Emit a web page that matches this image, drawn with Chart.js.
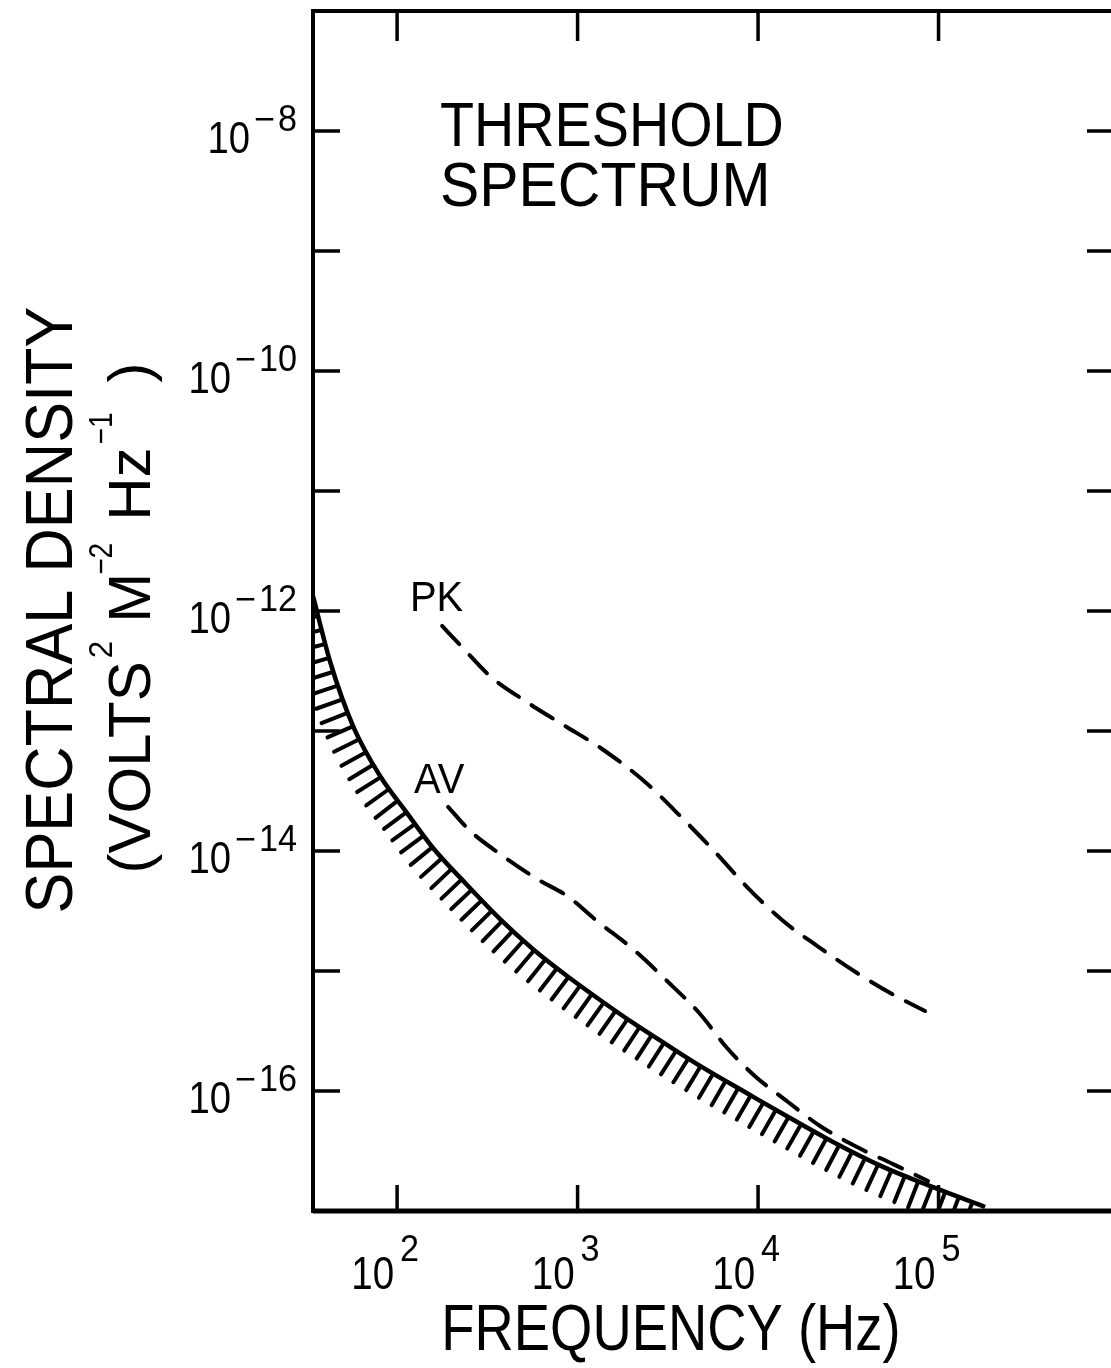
<!DOCTYPE html>
<html>
<head>
<meta charset="utf-8">
<title>Threshold Spectrum</title>
<script src="https://cdn.jsdelivr.net/npm/chart.js@4.4.0/dist/chart.umd.min.js"></script>
<style>
  html, body { margin: 0; padding: 0; background: #fff; overflow: hidden; }
  #wrap { position: absolute; left: 0; top: 0; width: 1120px; height: 1368px; }
</style>
</head>
<body>
<div id="wrap"><canvas id="myChart" width="1120" height="1368"></canvas></div>
<script>
// threshold curve (solid, hatched underneath)
const thrFreq = [34.3, 42.6, 57.0, 80.5, 113.6, 158.2, 244.2, 372.1, 566.9, 874.5,
                 1332, 2030, 3132, 4772, 9030, 13750, 26030, 49270, 93220, 181000];
const thrDensity = [1.31e-12, 3.76e-13, 1.10e-13, 4.22e-14, 2.07e-14, 1.06e-14, 5.21e-15, 2.71e-15, 1.52e-15, 9.08e-16,
                    5.73e-16, 3.69e-16, 2.42e-16, 1.62e-16, 9.26e-17, 6.43e-17, 3.76e-17, 2.33e-17, 1.58e-17, 1.08e-17];

// PK (dashed)
const pkFreq = [177.6, 229, 327.5, 511.8, 820.5, 1367, 2366, 3842, 5778, 8690,
                13580, 21230, 35370, 55260, 84200];
const pkDensity = [7.50e-13, 5.01e-13, 2.87e-13, 1.78e-13, 1.14e-13, 7.08e-14, 3.76e-14, 1.85e-14, 9.81e-15, 5.01e-15,
                   2.66e-15, 1.62e-15, 9.62e-16, 6.43e-16, 4.64e-16];

// AV (dashed)
const avFreq = [191.7, 253.8, 372.1, 596.6, 874.5, 1282, 2030, 3132, 4772, 6734,
                9625, 14660, 22050, 35370, 55970, 87450];
const avDensity = [2.33e-14, 1.47e-14, 9.44e-15, 5.84e-15, 4.22e-15, 2.61e-15, 1.52e-15, 8.26e-16, 4.38e-16, 2.28e-16,
                   1.33e-16, 8.10e-17, 5.11e-17, 3.41e-17, 2.46e-17, 1.78e-17];

// axes
const xMin = 34.2, xMax = 9.5e5;
const yMin = 1e-17, yMax = 1e-7;
const xTickExp = [2, 3, 4, 5];
const yTickExp = [-16, -15, -14, -13, -12, -11, -10, -9, -8];
const yLabelExp = [-8, -10, -12, -14, -16];

const FONT = '"Liberation Sans", Arial, sans-serif';
const INK = '#000';

function pts(xs, ys) {
    return xs.map((x, i) => ({ x: x, y: ys[i] }));
}

// draws pieces of text (base + superscripts) one after another
function richWidth(ctx, parts) {
    let w = 0;
    parts.forEach((p) => {
        ctx.font = `${p.size}px ${FONT}`;
        w += ctx.measureText(p.text).width * p.sx + (p.gap || 0);
    });
    return w;
}

function drawRich(ctx, parts, x, y, align) {
    const w = richWidth(ctx, parts);
    let cx = x;
    if (align === 'center') cx = x - w / 2;
    if (align === 'right') cx = x - w;
    parts.forEach((p) => {
        cx += (p.gap || 0);
        ctx.font = `${p.size}px ${FONT}`;
        ctx.save();
        ctx.translate(cx, y - (p.rise || 0));
        ctx.scale(p.sx, 1);
        ctx.textAlign = 'left';
        ctx.textBaseline = 'alphabetic';
        ctx.fillText(p.text, 0, 0);
        ctx.restore();
        cx += ctx.measureText(p.text).width * p.sx;
    });
}

// sample the drawn (bezier) path of a line dataset in pixels
function samplePath(meta) {
    const el = meta.data;
    const out = [];
    for (let i = 0; i < el.length - 1; i++) {
        const a = el[i], b = el[i + 1];
        const c1x = a.cp2x ?? a.x, c1y = a.cp2y ?? a.y;
        const c2x = b.cp1x ?? b.x, c2y = b.cp1y ?? b.y;
        for (let k = 0; k < 24; k++) {
            const t = k / 24, u = 1 - t;
            out.push({
                x: u * u * u * a.x + 3 * u * u * t * c1x + 3 * u * t * t * c2x + t * t * t * b.x,
                y: u * u * u * a.y + 3 * u * u * t * c1y + 3 * u * t * t * c2y + t * t * t * b.y
            });
        }
    }
    const last = el[el.length - 1];
    out.push({ x: last.x, y: last.y });
    return out;
}

const hatchPlugin = {
    id: 'hatch',
    afterDatasetsDraw(chart) {
        const ctx = chart.ctx;
        const area = chart.chartArea;
        const path = samplePath(chart.getDatasetMeta(0));
        const step = 14.5, len = 28;

        ctx.save();
        ctx.beginPath();
        ctx.rect(area.left, area.top, area.right - area.left, area.bottom - area.top);
        ctx.clip();
        ctx.strokeStyle = INK;
        ctx.lineWidth = 4;
        ctx.lineCap = 'round';

        let next = 5;
        let dist = 0;
        for (let i = 0; i < path.length - 1; i++) {
            const p = path[i], q = path[i + 1];
            const dx = q.x - p.x, dy = q.y - p.y;
            const seg = Math.hypot(dx, dy);
            if (seg === 0) continue;
            while (next <= dist + seg) {
                const t = (next - dist) / seg;
                const x = p.x + dx * t, y = p.y + dy * t;
                const nx = -dy / seg, ny = dx / seg;   // normal to lower-left side
                ctx.beginPath();
                ctx.moveTo(x + nx * 1.5, y + ny * 1.5);
                ctx.lineTo(x + nx * len, y + ny * len);
                ctx.stroke();
                next += step;
            }
            dist += seg;
        }
        ctx.restore();
    }
};

const framePlugin = {
    id: 'frame',
    afterDraw(chart) {
        const ctx = chart.ctx;
        const a = chart.chartArea;
        const xs = chart.scales.x, ys = chart.scales.y;

        ctx.save();
        ctx.strokeStyle = INK;
        ctx.fillStyle = INK;
        ctx.lineCap = 'butt';

        // box
        ctx.lineWidth = 4;
        ctx.strokeRect(a.left, a.top, a.right - a.left, a.bottom - a.top);
        ctx.lineWidth = 5;
        ctx.beginPath();
        ctx.moveTo(a.left, a.bottom); ctx.lineTo(a.right, a.bottom);
        ctx.stroke();

        // inward ticks
        ctx.lineWidth = 3.5;
        xTickExp.forEach((e) => {
            const px = xs.getPixelForValue(Math.pow(10, e));
            ctx.beginPath();
            ctx.moveTo(px, a.bottom); ctx.lineTo(px, a.bottom - 26);
            ctx.moveTo(px, a.top); ctx.lineTo(px, a.top + 30);
            ctx.stroke();
        });
        yTickExp.forEach((e) => {
            const py = ys.getPixelForValue(Math.pow(10, e));
            ctx.beginPath();
            ctx.moveTo(a.left, py); ctx.lineTo(a.left + 27, py);
            ctx.moveTo(a.right, py); ctx.lineTo(a.right - 28, py);
            ctx.stroke();
        });

        // y tick labels
        yLabelExp.forEach((e) => {
            const py = ys.getPixelForValue(Math.pow(10, e));
            drawRich(ctx, [
                { text: '10', size: 45, sx: 0.85 },
                { text: '\u2212', size: 36, sx: 1.0, rise: 22, gap: 4 },
                { text: String(Math.abs(e)), size: 36, sx: 0.95, rise: 22, gap: 3 }
            ], 297, py + 22, 'right');
        });

        // x tick labels
        xTickExp.forEach((e) => {
            const px = xs.getPixelForValue(Math.pow(10, e));
            const base = [{ text: '10', size: 47, sx: 0.82 }];
            const bw = richWidth(ctx, base);
            drawRich(ctx, base, px - 3 - bw, 1289, 'left');
            drawRich(ctx, [{ text: String(e), size: 36, sx: 0.95 }], px + 3, 1261, 'left');
        });

        // axis titles
        drawRich(ctx, [{ text: 'FREQUENCY (Hz)', size: 64, sx: 0.85 }], 671, 1350, 'center');

        ctx.save();
        ctx.translate(72, 610);
        ctx.rotate(-Math.PI / 2);
        drawRich(ctx, [{ text: 'SPECTRAL DENSITY', size: 66, sx: 0.93 }], 0, 0, 'center');
        ctx.restore();

        ctx.save();
        ctx.translate(150, 618);
        ctx.rotate(-Math.PI / 2);
        drawRich(ctx, [
            { text: '(VOLTS', size: 60, sx: 1.0 },
            { text: '2', size: 33, sx: 0.95, rise: 38, gap: 3 },
            { text: 'M', size: 60, sx: 1.0, gap: 18 },
            { text: '\u22122', size: 33, sx: 0.85, rise: 38, gap: -2 },
            { text: 'Hz', size: 60, sx: 1.0, gap: 22 },
            { text: '\u22121', size: 33, sx: 0.85, rise: 38, gap: 3 },
            { text: ')', size: 60, sx: 1.0, gap: 30 }
        ], 0, 0, 'center');
        ctx.restore();

        // annotations
        drawRich(ctx, [{ text: 'THRESHOLD', size: 63, sx: 0.885 }], 440, 146, 'left');
        drawRich(ctx, [{ text: 'SPECTRUM', size: 63, sx: 0.935 }], 440, 206, 'left');
        drawRich(ctx, [{ text: 'PK', size: 42, sx: 0.95 }], 410, 611, 'left');
        drawRich(ctx, [{ text: 'AV', size: 42, sx: 0.95 }], 414, 793, 'left');

        ctx.restore();
    }
};

const canvas = document.getElementById('myChart');
const myChart = new Chart(canvas, {
    type: 'line',
    data: {
        datasets: [
            {
                label: 'Threshold',
                data: pts(thrFreq, thrDensity),
                borderColor: INK,
                borderWidth: 4.5,
                pointRadius: 0,
                cubicInterpolationMode: 'monotone',
                fill: false
            },
            {
                label: 'PK',
                data: pts(pkFreq, pkDensity),
                borderColor: INK,
                borderWidth: 4,
                borderDash: [25, 15],
                borderCapStyle: 'round',
                pointRadius: 0,
                cubicInterpolationMode: 'monotone',
                fill: false
            },
            {
                label: 'AV',
                data: pts(avFreq, avDensity),
                borderColor: INK,
                borderWidth: 4,
                borderDash: [25, 15],
                borderCapStyle: 'round',
                pointRadius: 0,
                cubicInterpolationMode: 'monotone',
                fill: false
            }
        ]
    },
    options: {
        responsive: false,
        devicePixelRatio: 1,
        animation: false,
        layout: { padding: { left: 313, top: 11, right: 5, bottom: 157 } },
        plugins: { legend: { display: false }, tooltip: { enabled: false } },
        scales: {
            x: { type: 'logarithmic', min: xMin, max: xMax, display: false },
            y: { type: 'logarithmic', min: yMin, max: yMax, display: false }
        }
    },
    plugins: [hatchPlugin, framePlugin]
});
</script>
</body>
</html>
